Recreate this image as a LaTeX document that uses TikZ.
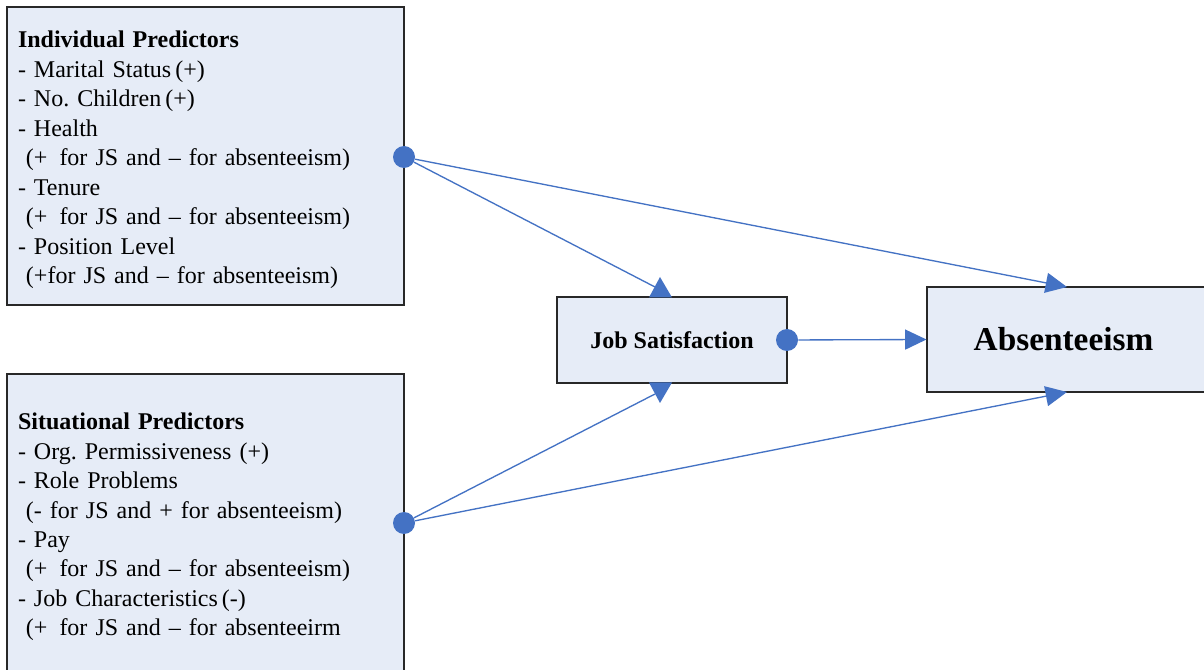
\documentclass[tikz,border=0pt]{standalone}
\usepackage{fontspec}
\setmainfont{Liberation Serif}
\usetikzlibrary{arrows.meta}
\definecolor{boxfill}{RGB}{230,236,247}
\definecolor{linkblue}{RGB}{68,114,196}
\definecolor{boxline}{RGB}{40,40,40}
\frenchspacing
\begin{document}
\begin{tikzpicture}[x=0.75pt,y=-0.75pt,
  panel/.style={draw=boxline,line width=0.8pt,fill=boxfill,rectangle},
  listbox/.style={panel,minimum width=297.75pt,inner xsep=8.25pt,
    text width=281.25pt,align=left,
    font=\fontsize{18pt}{22.1pt}\selectfont},
  dot/.style={circle,fill=linkblue,inner sep=0pt,minimum size=16.5pt},
  link/.style={draw=linkblue,line width=1pt},
  tip/.style={link,-{Triangle[length=16pt,width=15pt]}}]
\useasboundingbox (0,0) rectangle (1204,670);
\clip (0,0) rectangle (1204,670);
\fill[white] (0,0) rectangle (1204,670);

% predictor panels (a strut on the heading sets the text a little lower)
\node[listbox,minimum height=223.5pt] (ind) at (205.5,156) {%
  \rule{0pt}{18.4pt}\textbf{Individual Predictors}\\
  - Marital Status\,(+)\\
  - No. Children\,(+)\\
  - Health\\
  \ (+\, for JS and -- for absenteeism)\\
  - Tenure\\
  \ (+\, for JS and -- for absenteeism)\\
  - Position Level\\
  \ (+for JS and -- for absenteeism)};
\node[listbox,minimum height=225.75pt] (sit) at (205.5,524.5) {%
  \rule{0pt}{16.2pt}\textbf{Situational Predictors}\\
  - Org. Permissiveness (+)\\
  - Role Problems\\
  \ (- for JS and + for absenteeism)\\
  - Pay\\
  \ (+\, for JS and -- for absenteeism)\\
  - Job Characteristics\,(-)\\
  \ (+\, for JS and -- for absenteeirm};

% outcome boxes
\node[panel,minimum width=172.5pt,minimum height=64.5pt,
  font=\fontsize{18pt}{22pt}\selectfont\bfseries] (js) at (672,340) {Job Satisfaction};
\node[panel,minimum width=217.5pt,minimum height=78.75pt,
  font=\fontsize{25pt}{30pt}\selectfont\bfseries] (abs) at (1072,339.5)
  {\hspace*{-12.75pt}Absenteeism};

% connection points
\node[dot] (dA) at (404,157) {};
\node[dot] (dB) at (404,523) {};
\node[dot] (dJ) at (787,340) {};

% ends of the links
\coordinate (jsA) at (655,287);
\coordinate (jsB) at (655,394);
\coordinate (absA) at (1067,287);
\coordinate (absB) at (1067,392);

\draw[link] (dA) -- (jsA);
\draw[link] (dB) -- (jsB);
\fill[linkblue] (649,297.5) -- (660,277) -- (672,297.5) -- cycle;
\fill[linkblue] (649,382.5) -- (660,403) -- (672,382.5) -- cycle;

\draw[tip] (dA) -- (absA);
\draw[tip] (dB) -- (absB);
\draw[tip] (dJ) -- (abs.west);
\end{tikzpicture}
\end{document}
